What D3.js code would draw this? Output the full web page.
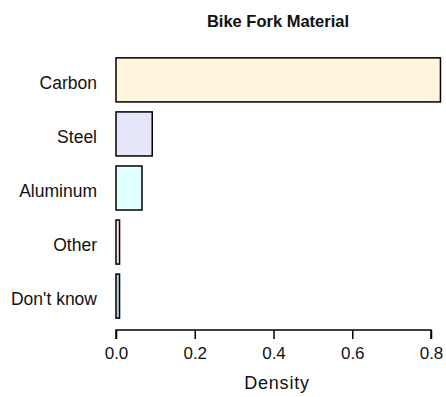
<!DOCTYPE html>
<html>
<head>
<meta charset="utf-8">
<script src="https://cdn.jsdelivr.net/npm/d3@7"></script>
<style>
  body { margin: 0; background: #fff; }
  svg { display: block; font-family: "Liberation Sans", Arial, sans-serif; }
</style>
</head>
<body>
<svg id="chart" width="446" height="397"></svg>
<script>
// Share of responses by fork material
const categories = ["Carbon", "Steel", "Aluminum", "Other", "Don't know"];
const densities = [0.824, 0.092, 0.066, 0.009, 0.009];
const fills = ["#FFF5DC", "#E6E6FA", "#E0FFFF", "#FFE4E1", "#ADD8E6"];
const xTicks = [0, 0.2, 0.4, 0.6, 0.8];

const svg = d3.select("#chart");

const x = d3.scaleLinear().domain([0, 0.8]).range([116, 431]);
const y = d3.scaleBand().domain(categories).range([53, 323]).paddingInner(0.185).paddingOuter(0.09);

// bars
svg.append("g")
  .selectAll("rect")
  .data(categories)
  .join("rect")
  .attr("x", x(0))
  .attr("y", d => y(d))
  .attr("width", (d, i) => x(densities[i]) - x(0))
  .attr("height", y.bandwidth())
  .attr("fill", (d, i) => fills[i])
  .attr("stroke", "#000")
  .attr("stroke-width", 1.5);

// category labels
svg.append("g")
  .selectAll("text")
  .data(categories)
  .join("text")
  .attr("x", 97)
  .attr("y", d => y(d) + y.bandwidth() / 2 + 9)
  .attr("text-anchor", "end")
  .attr("font-size", 17.5)
  .attr("fill", "#111")
  .text(d => d);

// x axis
const xAxis = d3.axisBottom(x)
  .tickValues(xTicks)
  .tickFormat(d3.format(".1f"))
  .tickSize(9)
  .tickPadding(8)
  .tickSizeOuter(0);

const gx = svg.append("g")
  .attr("transform", "translate(0,330)")
  .call(xAxis);
gx.select(".domain").attr("stroke", "#000").attr("stroke-width", 1.5)
  .attr("d", `M${x(0)},9V0H${x(0.8)}V9`);
gx.selectAll(".tick line").attr("stroke", "#000").attr("stroke-width", 1.5);
gx.selectAll(".tick text")
  .attr("font-size", 17)
  .attr("font-family", "Liberation Sans, Arial, sans-serif")
  .attr("fill", "#111");

svg.append("text")
  .attr("x", 277)
  .attr("y", 389)
  .attr("text-anchor", "middle")
  .attr("font-size", 18)
  .attr("letter-spacing", "0.8px")
  .attr("fill", "#111")
  .text("Density");

// title
svg.append("text")
  .attr("x", 278)
  .attr("y", 27)
  .attr("text-anchor", "middle")
  .attr("font-size", 16.5)
  .attr("font-weight", "bold")
  .attr("fill", "#111")
  .text("Bike Fork Material");
</script>
</body>
</html>
